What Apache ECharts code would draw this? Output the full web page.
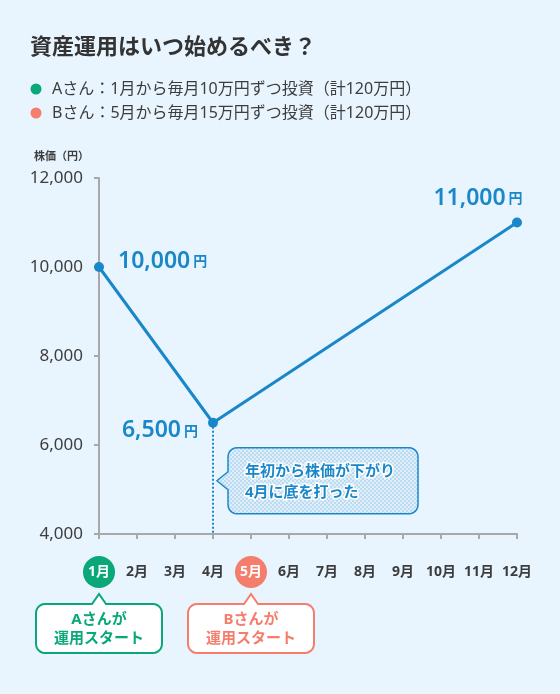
<!DOCTYPE html>
<html>
<head>
<meta charset="utf-8">
<script src="https://cdn.jsdelivr.net/npm/echarts@6/dist/echarts.min.js"></script>
<style>
  html, body { margin: 0; background: #e8f5fe; }
  #chart { width: 560px; height: 694px; }
</style>
</head>
<body>
<div id="chart"></div>
<script>
// data
const months = ['1月', '2月', '3月', '4月', '5月', '6月', '7月', '8月', '9月', '10月', '11月', '12月'];
const price = [10000, null, null, 6500, null, null, null, null, null, null, null, 11000];
const yMin = 4000, yMax = 12000, yStep = 2000;
const title = '資産運用はいつ始めるべき？';
const legendRows = ['Aさん：1月から毎月10万円ずつ投資（計120万円）', 'Bさん：5月から毎月15万円ずつ投資（計120万円）'];
const starters = ['1月', '5月'];
const starterText = ['Aさんが\n運用スタート', 'Bさんが\n運用スタート'];
const bottomMonth = '4月';
const noteText = '年初から株価が下がり\n4月に底を打った';

// look
const FONT = '"Noto Sans", "Noto Sans CJK JP", sans-serif';
const BLUE = '#1a87c9';
const GREEN = '#0aa878';
const SALMON = '#f47d6b';
const INK = '#3d3d3d';
const AXIS = '#a8a8a8';
const personColor = [GREEN, SALMON];

// per-point label placement (index -> label opts)
const labelPlace = {
  0:  { position: 'right', distance: 14, offset: [0, -6] },
  3:  { position: 'left', distance: 10, offset: [0, 8] },
  11: { position: 'top', distance: 4, offset: [-39, -4] },
};

const chart = echarts.init(document.getElementById('chart'));

// rounded box with a little pointer, as polygon points
function bubble(x, y, w, h, r, side, tip, len, half) {
  const pts = [];
  const arc = (cx, cy, a0) => {
    for (let i = 0; i <= 6; i++) {
      const a = a0 + i * Math.PI / 12;
      pts.push([cx + r * Math.cos(a), cy + r * Math.sin(a)]);
    }
  };
  arc(x + r, y + r, Math.PI);
  if (side === 'top') pts.push([tip - half, y], [tip, y - len], [tip + half, y]);
  arc(x + w - r, y + r, -Math.PI / 2);
  arc(x + w - r, y + h - r, 0);
  arc(x + r, y + h - r, Math.PI / 2);
  if (side === 'left') pts.push([x, tip + half], [x - len, tip], [x, tip - half]);
  return pts;
}

// checker fill for the note box
const pat = document.createElement('canvas');
pat.width = pat.height = 4;
const pg = pat.getContext('2d');
pg.fillStyle = '#deeefa';
pg.fillRect(0, 0, 4, 4);
pg.fillStyle = '#bcdaf0';
pg.fillRect(0, 0, 2, 2);
pg.fillRect(2, 2, 2, 2);

chart.setOption({
  animation: false,
  textStyle: { fontFamily: FONT },
  title: {
    text: title, left: 25, top: 32,
    textStyle: { fontSize: 22, fontWeight: 'bold', color: '#333', fontFamily: FONT },
  },
  grid: { left: 99, right: 43, top: 178, bottom: 160 },
  xAxis: {
    type: 'category',
    data: months,
    boundaryGap: false,
    axisLine: { lineStyle: { color: AXIS, width: 2 } },
    axisTick: { show: true, length: 5, lineStyle: { color: AXIS, width: 2 } },
    axisLabel: {
      interval: 0, margin: 22, fontSize: 14, fontWeight: 'bold', color: INK, lineHeight: 32,
      formatter: (v) => {
        const k = starters.indexOf(v);
        return k < 0 ? v : '{p' + k + '|' + v + '}';
      },
      rich: {
        p0: { backgroundColor: GREEN, color: '#fff', fontSize: 14, fontWeight: 'bold', width: 32, height: 32, borderRadius: 16, align: 'center' },
        p1: { backgroundColor: SALMON, color: '#fff', fontSize: 14, fontWeight: 'bold', width: 32, height: 32, borderRadius: 16, align: 'center' },
      },
    },
  },
  yAxis: {
    type: 'value',
    min: yMin, max: yMax, interval: yStep,
    axisLine: { show: true, lineStyle: { color: AXIS, width: 2 } },
    axisTick: { show: true, length: 5, lineStyle: { color: AXIS, width: 2 } },
    splitLine: { show: false },
    axisLabel: {
      margin: 16, fontSize: 17, color: INK,
      formatter: (v) => v.toLocaleString('en-US'),
    },
  },
  series: [{
    type: 'line',
    connectNulls: true,
    symbol: 'circle',
    symbolSize: 10,
    lineStyle: { color: BLUE, width: 3 },
    itemStyle: { color: BLUE },
    data: price.map((v, i) => v == null ? null : {
      value: v,
      label: Object.assign({ show: true }, labelPlace[i] || {}),
    }),
    label: {
      formatter: (p) => '{v|' + p.value.toLocaleString('en-US') + '}{u|円}',
      rich: {
        v: { fontSize: 23, fontWeight: 600, color: BLUE, fontFamily: FONT },
        u: { fontSize: 14, fontWeight: 'bold', color: BLUE, fontFamily: FONT, verticalAlign: 'bottom', padding: [0, 0, 3, 3] },
      },
    },
    markLine: {
      silent: true,
      symbol: 'none',
      label: { show: false },
      lineStyle: { color: BLUE, width: 2, type: [2, 2] },
      data: [[
        { coord: [bottomMonth, price[months.indexOf(bottomMonth)]] },
        { coord: [bottomMonth, yMin] },
      ]],
    },
  }],
});

// annotations placed from the chart's own scales
const graphics = [];
const [bx, by] = chart.convertToPixel({ gridIndex: 0 }, [bottomMonth, price[months.indexOf(bottomMonth)]]);
const axisY = chart.convertToPixel({ gridIndex: 0 }, [months[0], yMin])[1];

// legend
legendRows.forEach((t, i) => {
  const cy = 89 + i * 24;
  graphics.push({ type: 'circle', shape: { cx: 36, cy, r: 5.5 }, style: { fill: personColor[i] } });
  graphics.push({
    type: 'text', x: 52, y: cy,
    style: { text: t, fill: INK, font: '16px ' + FONT, verticalAlign: 'middle' },
  });
});

// y axis unit
graphics.push({
  type: 'text', x: 34, y: 157,
  style: { text: '株価（円）', fill: INK, font: 'bold 11px ' + FONT, verticalAlign: 'middle' },
});

// note box next to the bottom
const nx = bx + 15, ny = by + 25, nw = 190, nh = 66;
graphics.push({
  type: 'polygon',
  shape: { points: bubble(nx, ny, nw, nh, 9, 'left', ny + 33, 11, 9) },
  style: { fill: { image: pat, repeat: 'repeat' }, stroke: BLUE, lineWidth: 1.5 },
});
graphics.push({
  type: 'text', x: nx + 17, y: ny + nh / 2 + 1,
  style: {
    text: noteText, fill: BLUE, stroke: '#fff', lineWidth: 3,
    font: 'bold 15px ' + FONT, lineHeight: 21, verticalAlign: 'middle',
  },
});

// start bubbles under the axis
starters.forEach((m, i) => {
  const px = chart.convertToPixel({ gridIndex: 0 }, [m, yMin])[0];
  const top = axisY + 70, w = 126, h = 49;
  graphics.push({
    type: 'polygon',
    shape: { points: bubble(px - w / 2, top, w, h, 9, 'top', px, 10, 7) },
    style: { fill: '#fff', stroke: personColor[i], lineWidth: 2 },
  });
  graphics.push({
    type: 'text', x: px, y: top + h / 2 + 1,
    style: {
      text: starterText[i], fill: personColor[i], font: 'bold 15px ' + FONT,
      lineHeight: 19, align: 'center', verticalAlign: 'middle',
    },
  });
});

chart.setOption({ graphic: graphics });
</script>
</body>
</html>
